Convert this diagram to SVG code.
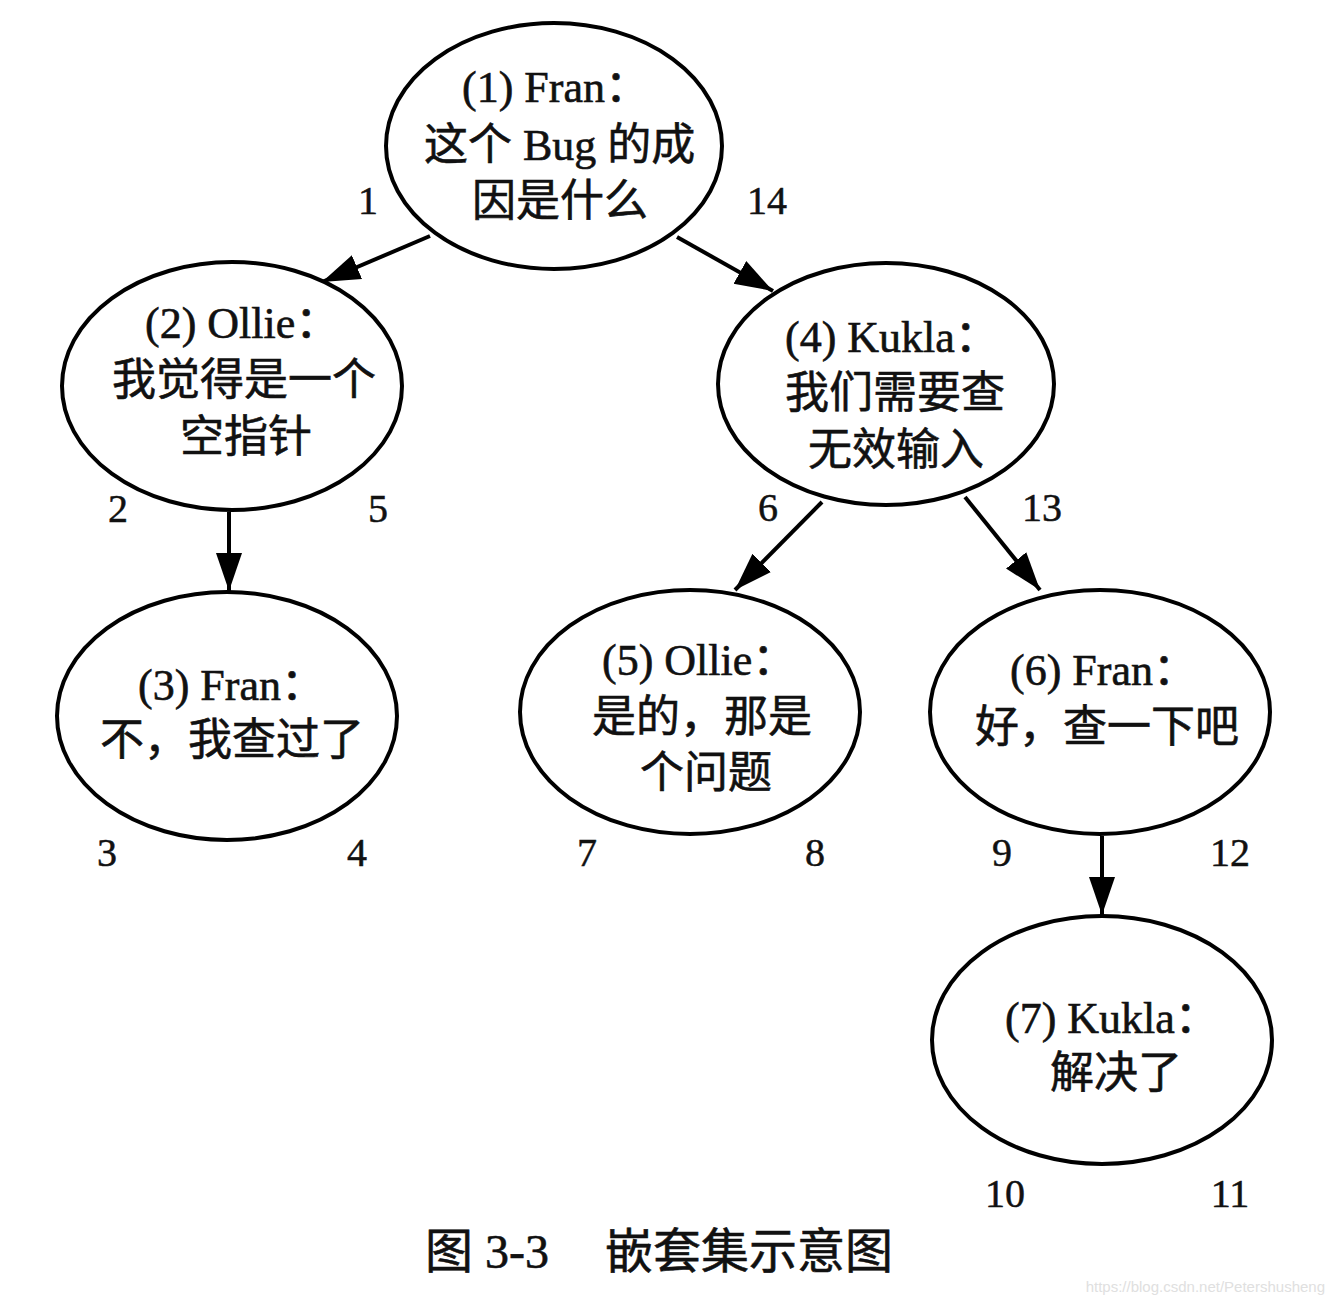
<svg xmlns="http://www.w3.org/2000/svg" width="1334" height="1306" viewBox="0 0 1334 1306">
<defs>
<style>
.n{fill:#fff;stroke:#000;stroke-width:4}
.t{font-family:"Liberation Serif","Noto Sans CJK SC",serif;font-size:44px;fill:#111;stroke:#111;stroke-width:0.6}
.num{font-family:"Liberation Serif",serif;font-size:40px;fill:#111;text-anchor:middle;stroke:#111;stroke-width:0.5}
.cap{font-family:"Liberation Serif","Noto Sans CJK SC",serif;font-size:48px;fill:#111;stroke:#111;stroke-width:0.6}
.e{stroke:#000;stroke-width:4;fill:none;marker-end:url(#ah)}
</style>
<marker id="ah" markerUnits="userSpaceOnUse" markerWidth="40" markerHeight="30" viewBox="0 0 40 30" refX="38" refY="15" orient="auto">
<path d="M0,2 L38,15 L0,28 Z" fill="#000"/>
</marker>
</defs>
<rect width="1334" height="1306" fill="#fff"/>
<g id="connectors">
<line class="e" x1="430" y1="236" x2="322" y2="282"/>
<line class="e" x1="677" y1="237" x2="773" y2="291"/>
<line class="e" x1="229" y1="512" x2="229" y2="591"/>
<line class="e" x1="822" y1="502" x2="735" y2="590"/>
<line class="e" x1="965" y1="497" x2="1040" y2="590"/>
<line class="e" x1="1102" y1="836" x2="1102" y2="915"/>
</g>
<g id="node1">
<ellipse class="n" cx="554" cy="146" rx="168" ry="123"/>
<text class="t" x="462" y="102">(1) Fran：</text>
<text class="t" x="424" y="160">这个 Bug 的成</text>
<text class="t" x="472" y="216">因是什么</text>
</g>
<g id="node2">
<ellipse class="n" cx="232" cy="386" rx="170" ry="124"/>
<text class="t" x="145" y="338">(2) Ollie：</text>
<text class="t" x="112" y="395">我觉得是一个</text>
<text class="t" x="180" y="452">空指针</text>
</g>
<g id="node4">
<ellipse class="n" cx="886" cy="384" rx="168" ry="121"/>
<text class="t" x="785" y="352">(4) Kukla：</text>
<text class="t" x="785" y="408">我们需要查</text>
<text class="t" x="808" y="465">无效输入</text>
</g>
<g id="node3">
<ellipse class="n" cx="227" cy="716" rx="170" ry="124"/>
<text class="t" x="138" y="700">(3) Fran：</text>
<text class="t" x="100" y="755">不，我查过了</text>
</g>
<g id="node5">
<ellipse class="n" cx="690" cy="712" rx="170" ry="122"/>
<text class="t" x="602" y="675">(5) Ollie：</text>
<text class="t" x="592" y="732">是的，那是</text>
<text class="t" x="640" y="788">个问题</text>
</g>
<g id="node6">
<ellipse class="n" cx="1100" cy="712" rx="170" ry="122"/>
<text class="t" x="1010" y="685">(6) Fran：</text>
<text class="t" x="975" y="742">好，查一下吧</text>
</g>
<g id="node7">
<ellipse class="n" cx="1102" cy="1040" rx="170" ry="124"/>
<text class="t" x="1005" y="1033">(7) Kukla：</text>
<text class="t" x="1050" y="1088">解决了</text>
</g>
<g id="numbers">
<text class="num" x="368" y="214">1</text>
<text class="num" x="767" y="214">14</text>
<text class="num" x="118" y="522">2</text>
<text class="num" x="378" y="522">5</text>
<text class="num" x="768" y="521">6</text>
<text class="num" x="1042" y="521">13</text>
<text class="num" x="107" y="866">3</text>
<text class="num" x="357" y="866">4</text>
<text class="num" x="587" y="866">7</text>
<text class="num" x="815" y="866">8</text>
<text class="num" x="1002" y="866">9</text>
<text class="num" x="1230" y="866">12</text>
<text class="num" x="1005" y="1207">10</text>
<text class="num" x="1230" y="1207">11</text>
</g>
<g id="caption">
<text class="cap" x="425" y="1268">图 3-3</text>
<text class="cap" x="605" y="1268">嵌套集示意图</text>
</g>
<text x="1325" y="1292" font-family="Liberation Sans,sans-serif" font-size="15" fill="#e0e0e0" text-anchor="end">https://blog.csdn.net/Petershusheng</text>
</svg>
